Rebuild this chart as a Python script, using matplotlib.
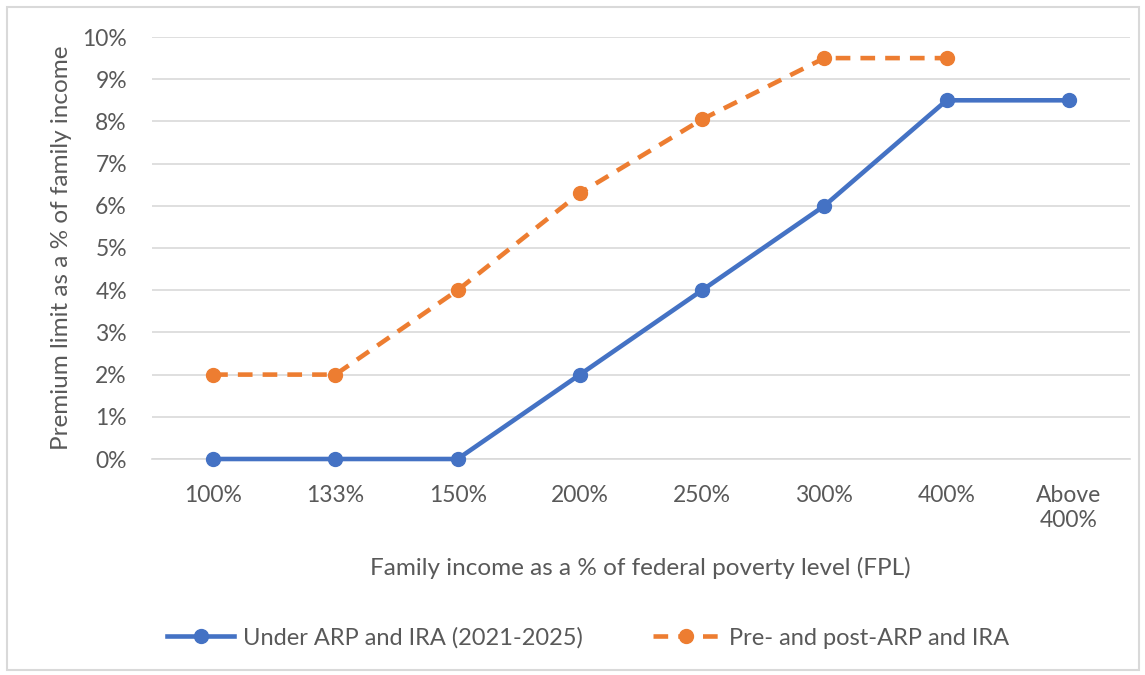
import matplotlib.pyplot as plt
from matplotlib.patches import Rectangle
from matplotlib.ticker import FuncFormatter

plt.rcParams['font.family'] = ['Lato', 'DejaVu Sans']

# Faixas de renda (% do FPL) e limites de prêmio (% da renda familiar)
categorias = ["100%", "133%", "150%", "200%", "250%", "300%", "400%", "Above\n400%"]
limite_arp_ira = [0, 0, 0, 2, 4, 6, 8.5, 8.5]
limite_pre_pos = [2, 2, 4, 6.3, 8.05, 9.5, 9.5]

cor_texto = "#595959"
cor_grade = "#d9d9d9"
tam_fonte = 16.5

fig = plt.figure(figsize=(11.45, 6.75), dpi=100)
ax = fig.add_axes([152 / 1145, 1 - 459 / 675, 978 / 1145, 422 / 675])

x = list(range(len(categorias)))
ax.plot(x, limite_arp_ira, color="#4472c4", linewidth=3.3, marker="o", markersize=10,
        clip_on=False, zorder=3, label="Under ARP and IRA (2021-2025)")
ax.plot(x[:len(limite_pre_pos)], limite_pre_pos, color="#ed7d31", linewidth=3.3,
        linestyle=(0, (3.2, 2.2)), marker="o", markersize=10, clip_on=False, zorder=3,
        label="Pre- and post-ARP and IRA")

ax.set_xlim(-0.5, len(categorias) - 0.5)
ax.set_ylim(0, 10)
ax.set_yticks(range(0, 11))
ax.yaxis.set_major_formatter(FuncFormatter(lambda v, _: f"{v:.0f}%"))
ax.set_xticks(x)
ax.set_xticklabels(categorias)

ax.grid(axis="y", color=cor_grade, linewidth=1.2)
ax.set_axisbelow(True)
for lado in ["top", "right", "left"]:
    ax.spines[lado].set_visible(False)
ax.spines["bottom"].set_color(cor_grade)
ax.spines["bottom"].set_linewidth(1.2)
ax.tick_params(axis="both", length=0, labelsize=tam_fonte, colors=cor_texto)
ax.tick_params(axis="x", pad=19)
ax.tick_params(axis="y", pad=18)
for rotulo in ax.get_xticklabels():
    rotulo.set_verticalalignment("top")
    rotulo.set_linespacing(1.2)

fig.text(640 / 1145, 1 - 568 / 675, "Family income as a % of federal poverty level (FPL)",
         ha="center", va="center", fontsize=17.5, color=cor_texto)
fig.text(62 / 1145, 1 - 248 / 675, "Premium limit as a % of family income",
         ha="center", va="center", rotation=90, fontsize=17.5, color=cor_texto)

fig.legend(loc="center left", bbox_to_anchor=(167 / 1145, 1 - 638 / 675), ncol=2,
           frameon=False, fontsize=17, labelcolor=cor_texto, handlelength=2.85,
           columnspacing=2.95, handletextpad=0.38, borderpad=0, borderaxespad=0)

# Moldura cinza em volta do gráfico
fig.patches.append(Rectangle((7 / 1145, 5 / 675), 1132 / 1145, 663 / 675,
                             transform=fig.transFigure, fill=False,
                             edgecolor="#d9d9d9", linewidth=1.5))

fig.savefig("out.png", dpi=100)
